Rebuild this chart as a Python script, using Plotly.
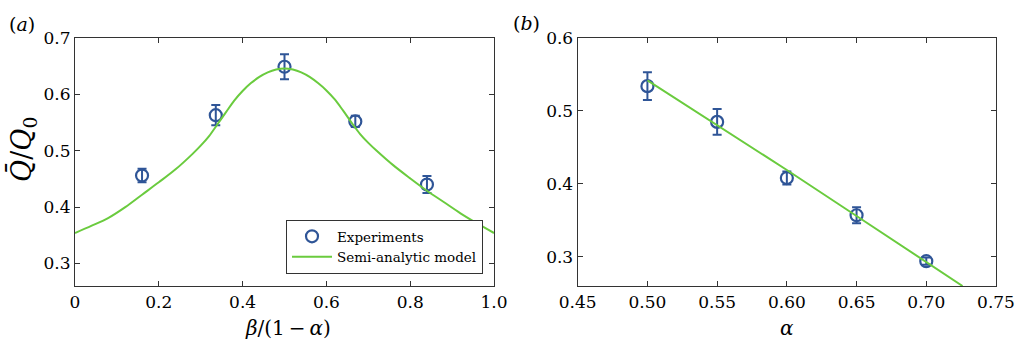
import plotly.graph_objects as go

# ---- data panel (a)
exp_a_x = [0.16, 0.336, 0.50, 0.669, 0.84]
exp_a_y = [0.456, 0.563, 0.649, 0.552, 0.440]
exp_a_err = [0.012, 0.018, 0.022, 0.010, 0.015]

model_a_x = [0.0, 0.04, 0.08, 0.12, 0.16, 0.20, 0.24, 0.28, 0.30, 0.32, 0.34, 0.36, 0.38, 0.40,
             0.42, 0.44, 0.46, 0.48, 0.50, 0.52, 0.54, 0.56, 0.58, 0.60, 0.62, 0.64, 0.66,
             0.68, 0.70, 0.72, 0.76, 0.80, 0.84, 0.88, 0.92, 0.96, 1.0]
model_a_y = [0.354, 0.367, 0.381, 0.400, 0.422, 0.444, 0.467, 0.494, 0.509, 0.526, 0.547, 0.568, 0.589, 0.606,
             0.620, 0.631, 0.639, 0.644, 0.646, 0.644, 0.639, 0.631, 0.620, 0.607, 0.591, 0.571, 0.550,
             0.530, 0.514, 0.500, 0.474, 0.451, 0.429, 0.409, 0.389, 0.371, 0.354]

# ---- data panel (b)
exp_b_x = [0.50, 0.55, 0.60, 0.65, 0.70]
exp_b_y = [0.534, 0.485, 0.408, 0.357, 0.294]
exp_b_err = [0.019, 0.0175, 0.009, 0.011, 0.005]

model_b_x = [0.50, 0.55, 0.60, 0.65, 0.70, 0.726]
model_b_y = [0.542, 0.481, 0.419, 0.356, 0.293, 0.260]

xticks_a = [0, 0.2, 0.4, 0.6, 0.8, 1.0]
xticklabels_a = ["0", "0.2", "0.4", "0.6", "0.8", "1.0"]
yticks_a = [0.3, 0.4, 0.5, 0.6, 0.7]
xticks_b = [0.45, 0.50, 0.55, 0.60, 0.65, 0.70, 0.75]
xticklabels_b = ["0.45", "0.50", "0.55", "0.60", "0.65", "0.70", "0.75"]
yticks_b = [0.3, 0.4, 0.5, 0.6]

BLUE = "#2f5597"
GREEN = "#6acb3e"
FONT = "DejaVu Serif"

fig = go.Figure()

fig.add_trace(go.Scatter(
    x=exp_a_x, y=exp_a_y, mode="markers", name="Experiments",
    marker=dict(symbol="circle-open", size=12, color=BLUE, line=dict(width=2.2, color=BLUE)),
    error_y=dict(type="data", array=exp_a_err, color=BLUE, thickness=2, width=4.5),
    xaxis="x", yaxis="y"))
fig.add_trace(go.Scatter(
    x=model_a_x, y=model_a_y, mode="lines", name="Semi-analytic model",
    line=dict(color=GREEN, width=2, shape="spline", smoothing=1.0),
    xaxis="x", yaxis="y"))

fig.add_trace(go.Scatter(
    x=exp_b_x, y=exp_b_y, mode="markers", showlegend=False,
    marker=dict(symbol="circle-open", size=12, color=BLUE, line=dict(width=2.2, color=BLUE)),
    error_y=dict(type="data", array=exp_b_err, color=BLUE, thickness=2, width=4.5),
    xaxis="x2", yaxis="y2"))
fig.add_trace(go.Scatter(
    x=model_b_x, y=model_b_y, mode="lines", showlegend=False,
    line=dict(color=GREEN, width=2),
    xaxis="x2", yaxis="y2"))

axis_common = dict(
    showgrid=False, zeroline=False, showline=True, linecolor="#333333", linewidth=1.2,
    mirror="allticks", ticks="inside", ticklen=5, tickcolor="#333333", tickwidth=1,
    tickfont=dict(family=FONT, size=17, color="black"), automargin=False,
)

xd_a = [75 / 1024, 494 / 1024]
xd_b = [577.7 / 1024, 996 / 1024]
yd = [1 - 286 / 346, 1 - 38 / 346]

def px_x(p):
    return p / 1024

def px_y(p):
    return 1 - p / 346

fig.update_layout(
    width=1024, height=346,
    margin=dict(l=0, r=0, t=0, b=0, autoexpand=False),
    paper_bgcolor="white", plot_bgcolor="white",
    font=dict(family=FONT, color="black"),
    xaxis=dict(domain=xd_a, range=[0, 1.0], tickvals=xticks_a, ticktext=xticklabels_a,
               anchor="y", **axis_common),
    yaxis=dict(domain=yd, range=[0.26, 0.7], tickvals=yticks_a, tickformat=".1f",
               anchor="x", **axis_common),
    xaxis2=dict(domain=xd_b, range=[0.45, 0.75], tickvals=xticks_b, ticktext=xticklabels_b,
                anchor="y2", **axis_common),
    yaxis2=dict(domain=yd, range=[0.26, 0.6], tickvals=yticks_b, tickformat=".1f",
                anchor="x2", **axis_common),
    legend=dict(x=px_x(483), y=px_y(274), xanchor="right", yanchor="bottom",
                bgcolor="white", bordercolor="#333333", borderwidth=1,
                font=dict(family=FONT, size=13.5, color="black"),
                tracegroupgap=0, itemwidth=40),
    showlegend=True,
    annotations=[
        dict(text="(<i>a</i>)", x=px_x(7), y=px_y(24), xref="paper", yref="paper",
             xanchor="left", yanchor="middle", showarrow=False, font=dict(family=FONT, size=19)),
        dict(text="(<i>b</i>)", x=px_x(511), y=px_y(23), xref="paper", yref="paper",
             xanchor="left", yanchor="middle", showarrow=False, font=dict(family=FONT, size=19)),
        dict(text="<i>β</i>/(1\u2009−\u2009<i>α</i>)", x=px_x(288), y=px_y(328), xref="paper", yref="paper",
             xanchor="center", yanchor="middle", showarrow=False, font=dict(family=FONT, size=20)),
        dict(text="<i>α</i>", x=px_x(787), y=px_y(328), xref="paper", yref="paper",
             xanchor="center", yanchor="middle", showarrow=False, font=dict(family=FONT, size=20)),
        dict(text="<i>Q\u0304</i>/<i>Q</i><sub>0</sub>", x=px_x(23), y=px_y(150), xref="paper", yref="paper",
             xanchor="center", yanchor="middle", showarrow=False, textangle=-90,
             font=dict(family=FONT, size=27)),
    ],
)

fig.write_html("out.html")
